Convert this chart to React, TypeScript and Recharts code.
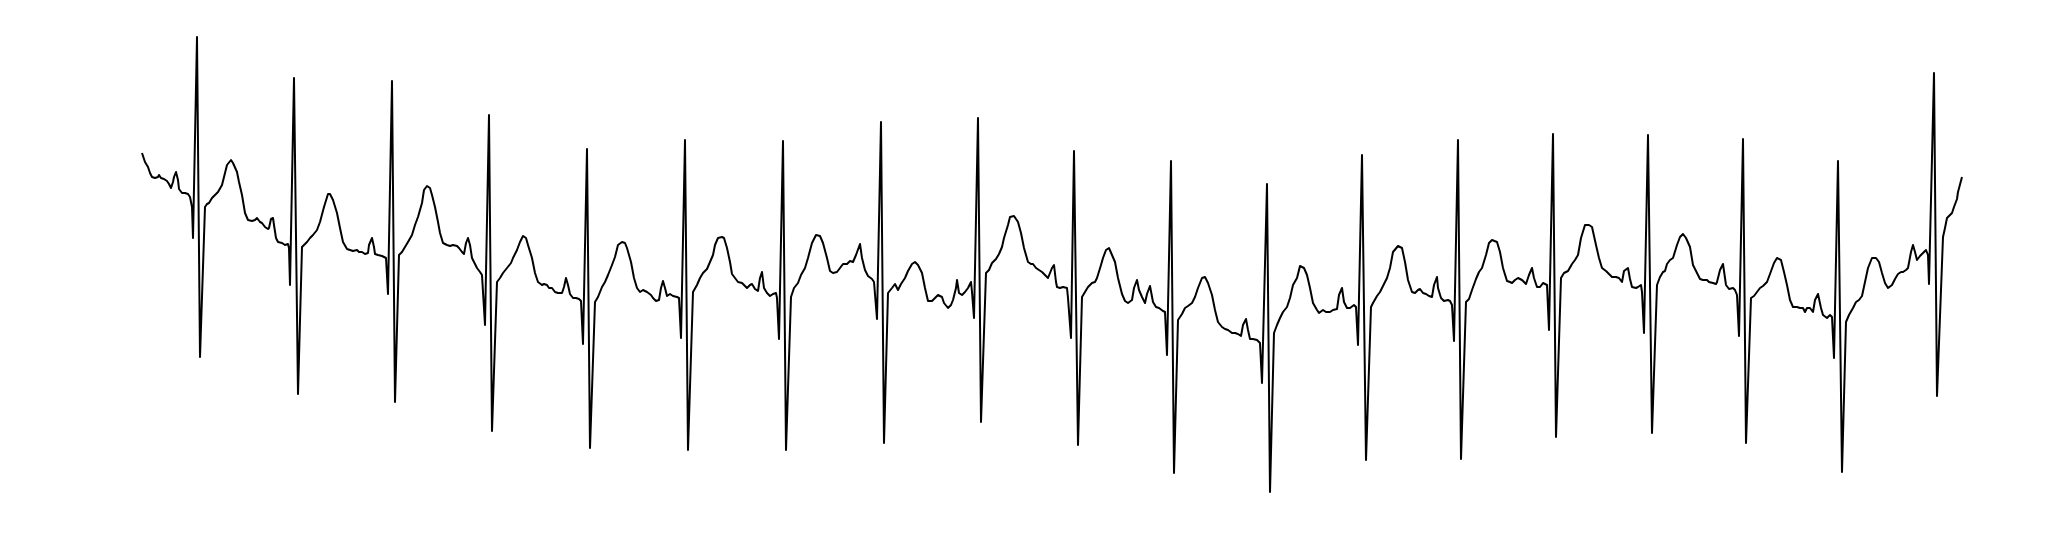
import { LineChart, Line, XAxis, YAxis } from "recharts";

// ECG strip: [sample index, amplitude in µV]
const SEG_A: [number, number][] = [
  [0, 1370], [3, 1280], [6, 1230], [8, 1170], [10, 1130], [13, 1120], [16, 1130], [17, 1150], [19, 1120], [22, 1110],
  [25, 1090], [27, 1060], [29, 1020], [31, 1080], [32, 1130], [34, 1180], [36, 1100], [37, 1010], [40, 970], [43, 970],
  [46, 960], [48, 930], [50, 830], [51, 520], [55, 2530], [58, -670], [63, 830], [65, 860], [67, 870], [70, 920],
  [73, 950], [76, 980], [80, 1050], [82, 1130], [85, 1250], [89, 1300], [91, 1270], [95, 1180], [97, 1080], [100, 950],
  [103, 770], [106, 700], [110, 690], [113, 700], [115, 720], [118, 680], [120, 670], [123, 630], [126, 610], [127, 620],
  [129, 710], [131, 720], [132, 650], [134, 520], [136, 480], [140, 470], [143, 450], [146, 460], [147, 420], [148, 50],
  [152, 2120], [156, -1040], [160, 430], [162, 450], [165, 480], [168, 520], [171, 550], [175, 600], [178, 680], [182, 830],
  [186, 960], [188, 960], [191, 900], [195, 770], [198, 620], [201, 480], [205, 410], [208, 400], [211, 390], [215, 400],
  [217, 380], [220, 380], [223, 360], [226, 370], [227, 450], [230, 520], [232, 430], [233, 360], [236, 350], [240, 340],
  [242, 330], [244, 320], [246, -40], [250, 2090], [253, -1120], [257, 350], [260, 380], [263, 430], [266, 480], [270, 550],
  [273, 650], [276, 730], [280, 870], [282, 1000], [285, 1040], [288, 1020], [290, 950], [293, 830], [296, 680], [298, 570],
  [301, 470],
];

const SEG_B: [number, number][] = [
  [305, 450], [308, 440], [311, 450], [315, 440], [317, 420], [320, 380], [322, 360], [324, 470], [326, 520], [328, 450],
  [330, 320], [333, 260], [335, 220], [338, 180], [340, 150], [341, -20], [343, -350], [347, 1750], [350, -1410], [355, 80],
  [358, 120], [361, 170], [365, 220], [369, 270], [371, 320], [375, 400], [378, 480], [381, 540], [384, 520], [386, 450],
  [390, 320], [393, 170], [396, 80], [400, 50], [402, 60], [405, 50], [407, 20], [410, 20], [413, -20], [416, -30],
  [420, -30], [422, 30], [424, 120], [426, 50], [428, -40], [431, -80], [434, -80], [437, -90], [439, -110], [441, -540],
  [445, 1410], [448, -1580], [453, -120], [456, -70], [460, 30], [463, 80], [466, 150], [470, 250], [473, 330], [476, 450],
  [480, 480], [483, 470], [485, 420], [489, 280], [492, 120], [495, 20], [498, -20], [501, 0], [505, -20], [509, -50],
  [511, -80], [514, -110], [517, -100], [519, 20], [521, 90], [523, 20], [525, -60], [528, -40], [531, -60], [535, -70],
  [537, -80], [539, -480], [543, 1500], [546, -1600], [551, -20], [555, 50], [558, 120], [561, 170], [565, 210], [568, 280],
  [571, 350], [573, 450], [576, 520], [580, 530], [582, 520], [585, 420], [588, 280], [590, 160], [593, 120], [596, 80],
  [600, 70], [603, 40], [605, 20],
];

const SEG_C: [number, number][] = [
  [608, 50], [610, 60], [613, 10], [616, -10], [618, 120], [620, 180], [622, 20], [625, -30], [628, -60], [631, -40],
  [634, -30], [635, -80], [637, -490], [641, 1490], [644, -1600], [649, -70], [652, 20], [656, 70], [659, 150], [663, 220],
  [666, 320], [670, 470], [674, 550], [678, 540], [681, 470], [685, 320], [688, 190], [691, 170], [695, 180], [698, 220],
  [701, 260], [705, 260], [708, 290], [711, 280], [714, 350], [718, 460], [720, 320], [723, 200], [726, 140], [730, 110],
  [732, 80], [735, -290], [739, 1680], [742, -1530], [746, -30], [750, 20], [753, 60], [756, 0], [759, 60], [763, 120],
  [766, 190], [770, 260], [773, 280], [776, 250], [780, 170], [783, 20], [786, -110], [790, -110], [793, -80], [796, -50],
  [800, -70], [802, -130], [806, -180], [809, -150], [811, -100], [814, 20], [815, 100], [817, -30], [820, -50], [823, -20],
  [826, 20], [829, 80], [830, -20], [832, -280], [836, 1720], [839, -1320], [844, 170], [847, 200], [850, 270], [854, 310],
  [857, 360], [860, 430], [862, 520], [866, 650], [868, 730], [872, 740], [876, 680], [879, 570], [882, 420], [886, 280],
  [889, 260], [891, 260], [894, 220], [897, 200], [900, 180], [903, 150], [906, 120],
];

const SEG_D: [number, number][] = [
  [908, 170], [910, 220], [912, 250], [914, 80], [915, 30], [918, 20], [921, 30], [925, 20], [926, -80], [929, -480],
  [932, 1390], [936, -1550], [940, -70], [943, -20], [946, 30], [950, 70], [953, 80], [955, 120], [959, 250], [961, 320],
  [964, 400], [967, 420], [970, 350], [973, 280], [976, 120], [980, -40], [983, -110], [986, -130], [990, -100], [992, 20],
  [995, 100], [997, 0], [1000, -70], [1003, -130], [1005, -40], [1008, 40], [1011, -120], [1014, -170], [1017, -180], [1021, -210],
  [1023, -220], [1025, -650], [1029, 1290], [1032, -1830], [1036, -300], [1040, -240], [1043, -180], [1046, -160], [1050, -130], [1053, -70],
  [1056, 20], [1060, 120], [1063, 130], [1066, 70], [1070, -50], [1073, -200], [1076, -320], [1080, -370], [1083, -390], [1086, -400],
  [1090, -430], [1093, -430], [1096, -440], [1099, -460], [1101, -350], [1104, -290], [1106, -400], [1108, -490], [1111, -490], [1115, -500],
  [1118, -530], [1120, -930], [1125, 1060], [1128, -2020], [1132, -430], [1135, -350], [1138, -280], [1141, -220], [1145, -170], [1148, -80],
  [1151, 50], [1155, 120], [1158, 240], [1162, 220], [1165, 150], [1168, 20], [1171, -130], [1175, -200], [1177, -230], [1181, -200],
  [1184, -220], [1188, -220], [1191, -200], [1195, -190], [1197, -50], [1200, 20], [1202, -120], [1205, -180], [1208, -180], [1212, -150],
  [1214, -170],
];

const SEG_E: [number, number][] = [
  [1216, -550], [1220, 1350], [1224, -1700], [1229, -170], [1231, -130], [1235, -60], [1238, -20], [1241, 40], [1245, 120], [1248, 220],
  [1251, 380], [1256, 440], [1260, 420], [1263, 280], [1266, 100], [1270, -20], [1273, -30], [1276, 0], [1278, 10], [1281, -30],
  [1284, -40], [1287, -60], [1290, -70], [1292, 50], [1295, 130], [1296, 20], [1299, -80], [1302, -110], [1306, -100], [1308, -110],
  [1310, -150], [1312, -510], [1316, 1500], [1319, -1690], [1324, -120], [1327, -90], [1330, 0], [1334, 110], [1337, 180], [1340, 220],
  [1344, 350], [1347, 470], [1350, 500], [1355, 480], [1358, 380], [1361, 220], [1365, 90], [1368, 80], [1370, 70], [1373, 100],
  [1376, 120], [1380, 100], [1384, 60], [1387, 150], [1390, 220], [1392, 120], [1395, 30], [1398, 30], [1401, 70], [1405, 50],
  [1407, -400], [1411, 1560], [1414, -1470], [1419, 120], [1422, 170], [1426, 190], [1430, 260], [1433, 300], [1436, 350], [1439, 520],
  [1443, 650], [1447, 650], [1450, 630], [1454, 450], [1457, 320], [1460, 220], [1464, 190], [1467, 160], [1470, 130], [1474, 130],
  [1477, 120], [1480, 80], [1482, 190], [1486, 220], [1488, 110], [1490, 30], [1494, 20], [1496, 30], [1499, 50], [1500, -20],
  [1502, -430], [1506, 1550], [1510, -1430], [1515, 50], [1518, 130],
];

const SEG_F: [number, number][] = [
  [1521, 180], [1523, 190], [1525, 260], [1528, 300], [1531, 320], [1535, 450], [1538, 530], [1541, 560], [1544, 520], [1548, 430],
  [1551, 250], [1555, 170], [1558, 110], [1561, 100], [1565, 100], [1567, 80], [1571, 70], [1574, 60], [1575, 80], [1578, 200],
  [1581, 260], [1584, 50], [1587, 10], [1591, 20], [1593, 0], [1595, -50], [1597, -460], [1601, 1510], [1604, -1530], [1609, -80],
  [1612, -60], [1615, -20], [1618, 20], [1621, 40], [1625, 80], [1628, 160], [1632, 270], [1635, 320], [1639, 300], [1642, 180],
  [1645, 50], [1648, -100], [1651, -170], [1655, -170], [1658, -180], [1661, -180], [1663, -220], [1665, -180], [1668, -180], [1671, -220],
  [1673, -100], [1676, -40], [1679, -180], [1681, -250], [1685, -280], [1688, -250], [1690, -270], [1692, -680], [1696, 1290], [1700, -1820],
  [1704, -320], [1707, -250], [1711, -180], [1714, -120], [1717, -100], [1720, -60], [1723, 80], [1726, 220], [1730, 320], [1734, 320],
  [1737, 280], [1740, 170], [1743, 70], [1746, 20], [1750, 50], [1753, 110], [1756, 160], [1759, 180], [1761, 180], [1764, 200],
  [1766, 220], [1769, 380], [1771, 450], [1773, 380], [1775, 300], [1778, 340], [1781, 370], [1784, 400], [1786, 350], [1787, 60],
  [1792, 2170], [1795, -1060], [1801, 530], [1803, 620], [1805, 720], [1810, 770], [1812, 830], [1815, 910], [1816, 980], [1820, 1130],
];

const data = [...SEG_A, ...SEG_B, ...SEG_C, ...SEG_D, ...SEG_E, ...SEG_F].map(([t, v]) => ({ t, v }));

export default function App() {
  return (
    <LineChart width={2039} height={522} data={data} margin={{ top: 12, right: 85, bottom: 20, left: 134 }}>
      <XAxis dataKey="t" type="number" domain={[0, 1820]} hide />
      <YAxis type="number" domain={[-2200, 2700]} hide />
      <Line
        type="linear"
        dataKey="v"
        stroke="#000000"
        strokeWidth={2}
        strokeLinejoin="round"
        dot={false}
        activeDot={false}
        isAnimationActive={false}
      />
    </LineChart>
  );
}
